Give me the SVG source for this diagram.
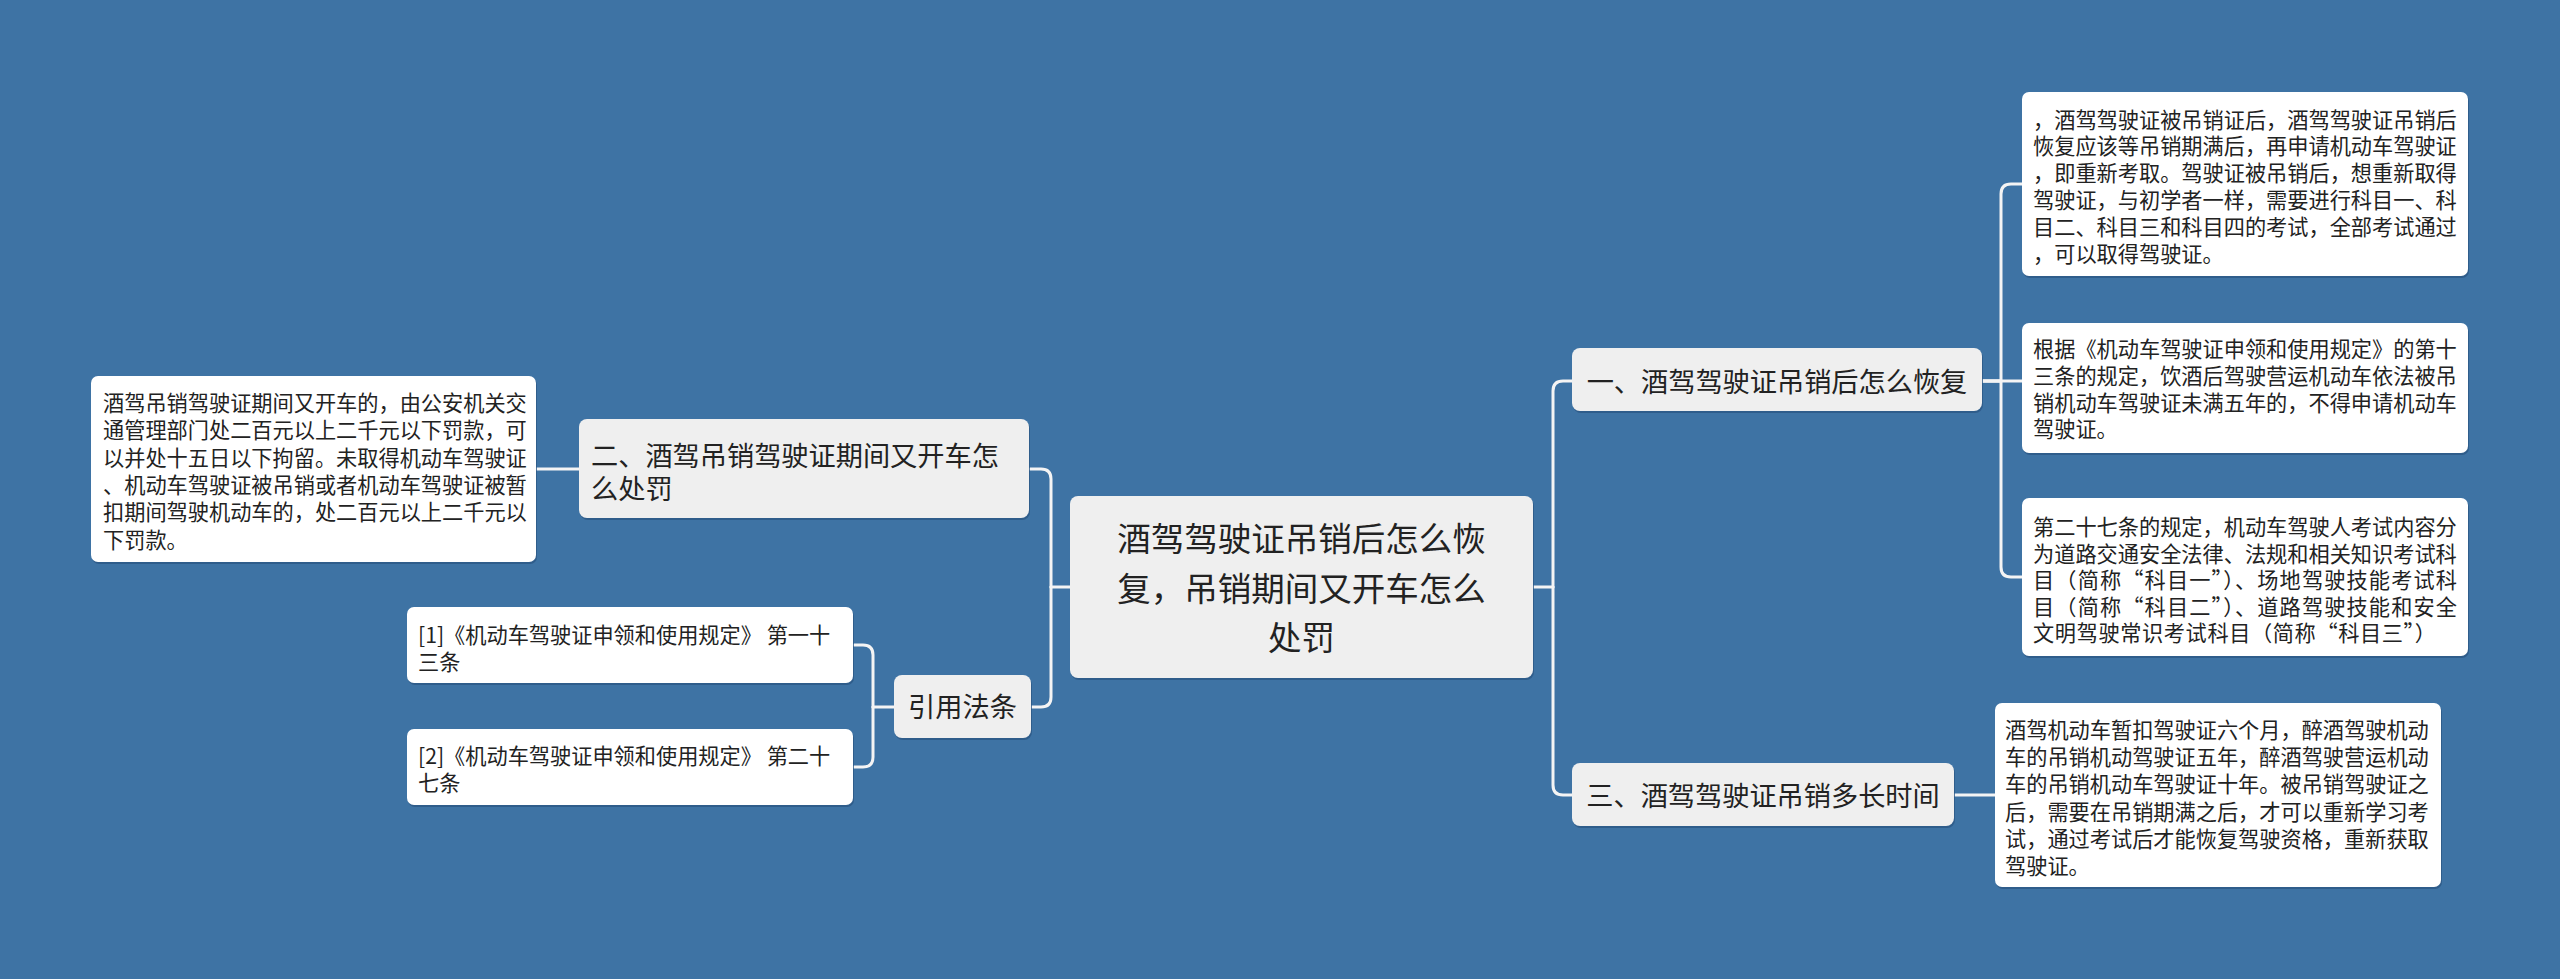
<svg xmlns="http://www.w3.org/2000/svg" width="2560" height="979" viewBox="0 0 2560 979">
<style>
.bg{fill:#3e73a4}
.ln{fill:none;stroke:#f4f4f4;stroke-width:3;stroke-linecap:round;stroke-linejoin:round}
.sh{fill:#2c5884;opacity:0.8}
.main{fill:#efefef}
.leaf{fill:#ffffff}
text{font-family:"Noto Sans CJK SC","Microsoft YaHei",sans-serif;fill:#222}
.tc{font-size:33.5px;text-anchor:middle}
.tm{font-size:27.2px}
.tmm{font-size:27.2px;text-anchor:middle}
.tl{font-size:21.2px}
</style>
<rect class="bg" x="0" y="0" width="2560" height="979"/>
<g id="connectors">
<path class="ln" d="M1533,587 H1553"/>
<path class="ln" d="M1553,587 V391 Q1553,381 1563,381 H1572"/>
<path class="ln" d="M1553,587 V785 Q1553,795 1563,795 H1572"/>
<path class="ln" d="M1982,381 H2022"/>
<path class="ln" d="M1982,381 H2001 V194 Q2001,184 2011,184 H2022"/>
<path class="ln" d="M1982,381 H2001 V567 Q2001,577 2011,577 H2022"/>
<path class="ln" d="M1954,795 H1995"/>
<path class="ln" d="M1070,587 H1051"/>
<path class="ln" d="M1051,587 V479 Q1051,469 1041,469 H1030"/>
<path class="ln" d="M1051,587 V697 Q1051,707 1041,707 H1031"/>
<path class="ln" d="M579,469 H536"/>
<path class="ln" d="M894,707 H873"/>
<path class="ln" d="M873,707 V655 Q873,645 863,645 H854"/>
<path class="ln" d="M873,707 V757 Q873,767 863,767 H854"/>
</g>
<g id="center">
<rect class="sh" x="1071" y="498" width="463" height="182" rx="8"/>
<rect class="main" x="1070" y="496" width="463" height="182" rx="8"/>
<text class="tc" x="1301.5" y="551">酒驾驾驶证吊销后怎么恢</text>
<text class="tc" x="1301.5" y="600.5">复，吊销期间又开车怎么</text>
<text class="tc" x="1301.5" y="650">处罚</text>
</g>
<g id="n1">
<rect class="sh" x="1573" y="350" width="410" height="63" rx="8"/>
<rect class="main" x="1572" y="348" width="410" height="63" rx="8"/>
<text class="tmm" x="1777" y="391.5">一、酒驾驾驶证吊销后怎么恢复</text>
</g>
<g id="n3">
<rect class="sh" x="1573" y="765" width="382" height="63" rx="8"/>
<rect class="main" x="1572" y="763" width="382" height="63" rx="8"/>
<text class="tmm" x="1763" y="805.5">三、酒驾驾驶证吊销多长时间</text>
</g>
<g id="n2">
<rect class="sh" x="580" y="421" width="450" height="99" rx="8"/>
<rect class="main" x="579" y="419" width="450" height="99" rx="8"/>
<text class="tm" x="591" y="466">二、酒驾吊销驾驶证期间又开车怎</text>
<text class="tm" x="591" y="499">么处罚</text>
</g>
<g id="nref">
<rect class="sh" x="895" y="677" width="137" height="63" rx="8"/>
<rect class="main" x="894" y="675" width="137" height="63" rx="8"/>
<text class="tmm" x="962.5" y="717">引用法条</text>
</g>
<g id="leafA">
<rect class="sh" x="2023" y="94" width="446" height="184" rx="7"/>
<rect class="leaf" x="2022" y="92" width="446" height="184" rx="7"/>
<text class="tl" x="2033" y="127.5">，酒驾驾驶证被吊销证后，酒驾驾驶证吊销后</text>
<text class="tl" x="2033" y="154.3">恢复应该等吊销期满后，再申请机动车驾驶证</text>
<text class="tl" x="2033" y="181.1">，即重新考取。驾驶证被吊销后，想重新取得</text>
<text class="tl" x="2033" y="207.9">驾驶证，与初学者一样，需要进行科目一、科</text>
<text class="tl" x="2033" y="234.7">目二、科目三和科目四的考试，全部考试通过</text>
<text class="tl" x="2033" y="261.5">，可以取得驾驶证。</text>
</g>
<g id="leafB">
<rect class="sh" x="2023" y="325" width="446" height="130" rx="7"/>
<rect class="leaf" x="2022" y="323" width="446" height="130" rx="7"/>
<text class="tl" x="2033" y="357">根据《机动车驾驶证申领和使用规定》的第十</text>
<text class="tl" x="2033" y="383.8">三条的规定，饮酒后驾驶营运机动车依法被吊</text>
<text class="tl" x="2033" y="410.6">销机动车驾驶证未满五年的，不得申请机动车</text>
<text class="tl" x="2033" y="437.4">驾驶证。</text>
</g>
<g id="leafC">
<rect class="sh" x="2023" y="500" width="446" height="158" rx="7"/>
<rect class="leaf" x="2022" y="498" width="446" height="158" rx="7"/>
<text class="tl" x="2033" y="535">第二十七条的规定，机动车驾驶人考试内容分</text>
<text class="tl" x="2033" y="561.6">为道路交通安全法律、法规和相关知识考试科</text>
<text class="tl" x="2033" y="588.2" textLength="424" lengthAdjust="spacing">目（简称“科目一”）、场地驾驶技能考试科</text>
<text class="tl" x="2033" y="614.8" textLength="424" lengthAdjust="spacing">目（简称“科目二”）、道路驾驶技能和安全</text>
<text class="tl" x="2033" y="641.4" textLength="403" lengthAdjust="spacing">文明驾驶常识考试科目（简称“科目三”）</text>
</g>
<g id="leafD">
<rect class="sh" x="1996" y="705" width="446" height="184" rx="7"/>
<rect class="leaf" x="1995" y="703" width="446" height="184" rx="7"/>
<text class="tl" x="2005" y="738">酒驾机动车暂扣驾驶证六个月，醉酒驾驶机动</text>
<text class="tl" x="2005" y="765.2">车的吊销机动驾驶证五年，醉酒驾驶营运机动</text>
<text class="tl" x="2005" y="792.4">车的吊销机动车驾驶证十年。被吊销驾驶证之</text>
<text class="tl" x="2005" y="819.6">后，需要在吊销期满之后，才可以重新学习考</text>
<text class="tl" x="2005" y="846.8">试，通过考试后才能恢复驾驶资格，重新获取</text>
<text class="tl" x="2005" y="874">驾驶证。</text>
</g>
<g id="leafE">
<rect class="sh" x="92" y="378" width="445" height="186" rx="7"/>
<rect class="leaf" x="91" y="376" width="445" height="186" rx="7"/>
<text class="tl" x="103" y="411">酒驾吊销驾驶证期间又开车的，由公安机关交</text>
<text class="tl" x="103" y="438.3">通管理部门处二百元以上二千元以下罚款，可</text>
<text class="tl" x="103" y="465.6">以并处十五日以下拘留。未取得机动车驾驶证</text>
<text class="tl" x="103" y="492.9">、机动车驾驶证被吊销或者机动车驾驶证被暂</text>
<text class="tl" x="103" y="520.2">扣期间驾驶机动车的，处二百元以上二千元以</text>
<text class="tl" x="103" y="547.5">下罚款。</text>
</g>
<g id="ref1">
<rect class="sh" x="408" y="609" width="446" height="76" rx="7"/>
<rect class="leaf" x="407" y="607" width="446" height="76" rx="7"/>
<text class="tl" x="418" y="643">[1]《机动车驾驶证申领和使用规定》 第一十</text>
<text class="tl" x="418" y="670">三条</text>
</g>
<g id="ref2">
<rect class="sh" x="408" y="731" width="446" height="76" rx="7"/>
<rect class="leaf" x="407" y="729" width="446" height="76" rx="7"/>
<text class="tl" x="418" y="764">[2]《机动车驾驶证申领和使用规定》 第二十</text>
<text class="tl" x="418" y="791">七条</text>
</g>
</svg>
